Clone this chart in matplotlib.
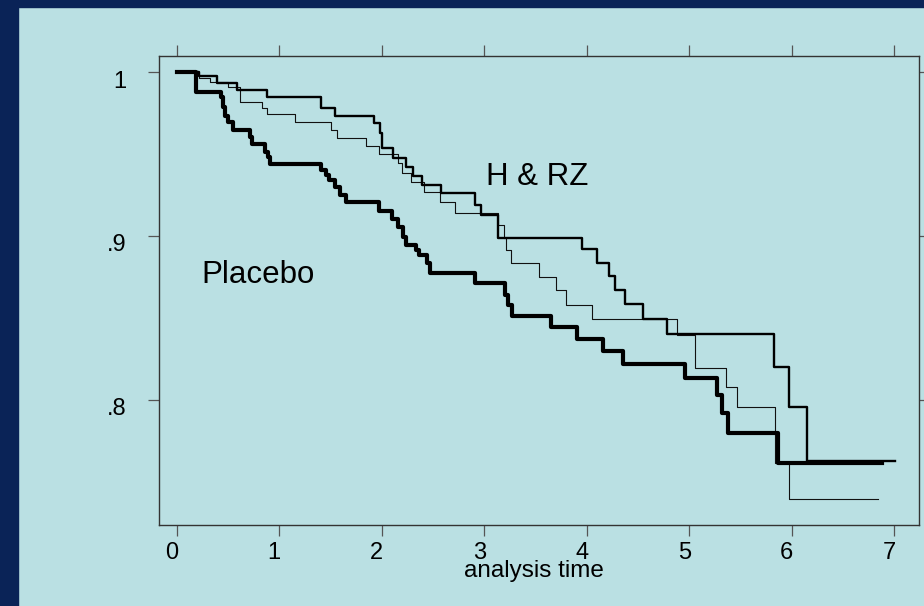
import matplotlib
matplotlib.use("Agg")
import matplotlib.pyplot as plt
from matplotlib.patches import Rectangle
from matplotlib.transforms import ScaledTranslation

plt.rcParams['font.family'] = ['Liberation Sans', 'DejaVu Sans']

# ---- data (Kaplan-Meier step estimates) ----
placebo_t = [0, 0.19, 0.43, 0.45, 0.47, 0.50, 0.55, 0.715, 0.73, 0.86, 0.89, 0.91,
             1.41, 1.46, 1.49, 1.54, 1.59, 1.65, 1.97, 2.10, 2.16, 2.21, 2.24, 2.33,
             2.36, 2.44, 2.47, 2.91, 3.20, 3.23, 3.27, 3.65, 3.91, 4.155, 4.35, 4.96,
             5.27, 5.32, 5.38, 5.87, 6.88]
placebo_s = [1.0, 0.9878, 0.985, 0.979, 0.9735, 0.9695, 0.9647, 0.9606, 0.9562, 0.9515,
             0.9485, 0.9438, 0.9403, 0.9372, 0.9342, 0.930, 0.925, 0.9205, 0.9155, 0.9105,
             0.9056, 0.8995, 0.8944, 0.8914, 0.8883, 0.8832, 0.8771, 0.8714, 0.864, 0.8578,
             0.8512, 0.8441, 0.8370, 0.8296, 0.8217, 0.8130, 0.8027, 0.7916, 0.7793, 0.761,
             0.761]

hrz_t = [0, 0.22, 0.39, 0.59, 0.885, 1.405, 1.545, 1.925, 1.98, 2.00, 2.11, 2.24, 2.31,
         2.39, 2.575, 2.91, 2.965, 3.13, 3.95, 4.10, 4.22, 4.28, 4.37, 4.55, 4.78, 5.83,
         5.97, 6.15, 7.01]
hrz_s = [1.0, 0.9977, 0.9937, 0.9892, 0.9847, 0.978, 0.9733, 0.9688, 0.9627, 0.9535,
         0.9474, 0.9419, 0.9366, 0.9313, 0.926, 0.9192, 0.913, 0.899, 0.8918, 0.8836,
         0.8755, 0.8669, 0.8584, 0.849, 0.840, 0.820, 0.7956, 0.7624, 0.7624]

third_t = [0, 0.22, 0.32, 0.50, 0.62, 0.83, 0.88, 1.15, 1.51, 1.56, 1.85, 1.97, 2.16,
           2.20, 2.29, 2.41, 2.57, 2.715, 3.13, 3.19, 3.21, 3.26, 3.535, 3.70, 3.795,
           4.05, 4.88, 5.06, 5.36, 5.47, 5.84, 5.97, 6.84]
third_s = [1.0, 0.9965, 0.9943, 0.9912, 0.982, 0.978, 0.9743, 0.9694, 0.9647, 0.9597,
           0.955, 0.9499, 0.9444, 0.9386, 0.9331, 0.927, 0.921, 0.9138, 0.9067, 0.899,
           0.8914, 0.8836, 0.875, 0.8669, 0.8578, 0.849, 0.8394, 0.819, 0.8078, 0.7956,
           0.761, 0.739, 0.739]

x_ticks = [0, 1, 2, 3, 4, 5, 6, 7]
y_ticks = [0.8, 0.9, 1.0]
y_ticklabels = ['.8', '.9', '1']
x_label = 'analysis time'
label_placebo = 'Placebo'
label_hrz = 'H & RZ'

# ---- styling ----
W, H = 924, 606
bg = '#bae0e3'
navy = '#0a2357'

fig = plt.figure(figsize=(W / 100, H / 100), dpi=100, facecolor=bg)
fig.patches.append(Rectangle((0, 0), 18 / W, 1, transform=fig.transFigure,
                             color=navy, zorder=-1))
fig.patches.append(Rectangle((0, 1 - 7 / H), 1, 7 / H, transform=fig.transFigure,
                             color=navy, zorder=-1))

ax = fig.add_axes([158.5 / W, 81 / H, 760 / W, 469.5 / H])
ax.set_facecolor(bg)

ax.step(third_t, third_s, where='post', color='#111111', lw=0.8)
ax.step(hrz_t, hrz_s, where='post', color='black', lw=1.7)
ax.step(placebo_t, placebo_s, where='post', color='black', lw=3.0)

ax.set_xlim(-0.1776, 7.237)
ax.set_ylim(0.7233, 1.0103)

ax.set_xticks(x_ticks)
ax.set_xticklabels([str(v) for v in x_ticks])
ax.set_yticks(y_ticks)
ax.set_yticklabels(y_ticklabels)

for sp in ax.spines.values():
    sp.set_color('#333333')
    sp.set_linewidth(1.0)

ax.tick_params(axis='both', direction='out', length=8, width=0.9, color='#555555',
               top=True, right=True, labeltop=False, labelright=False,
               labelsize=17, labelcolor='black')
ax.tick_params(axis='x', pad=4)
ax.tick_params(axis='y', pad=15)

for lab in ax.get_yticklabels():
    lab.set_transform(lab.get_transform() + ScaledTranslation(0, -7 / 100, fig.dpi_scale_trans))
for lab in ax.get_xticklabels():
    lab.set_transform(lab.get_transform() + ScaledTranslation(-5 / 100, 0, fig.dpi_scale_trans))

ax.text(0.237, 0.8714, label_placebo, fontsize=22.5, ha='left', va='baseline')
ax.text(3.018, 0.9311, label_hrz, fontsize=22.5, ha='left', va='baseline')

fig.text(534 / W, 1 - 571 / H, x_label, fontsize=17.5, ha='center', va='center')

fig.savefig('out.png', dpi=100, facecolor=bg)
